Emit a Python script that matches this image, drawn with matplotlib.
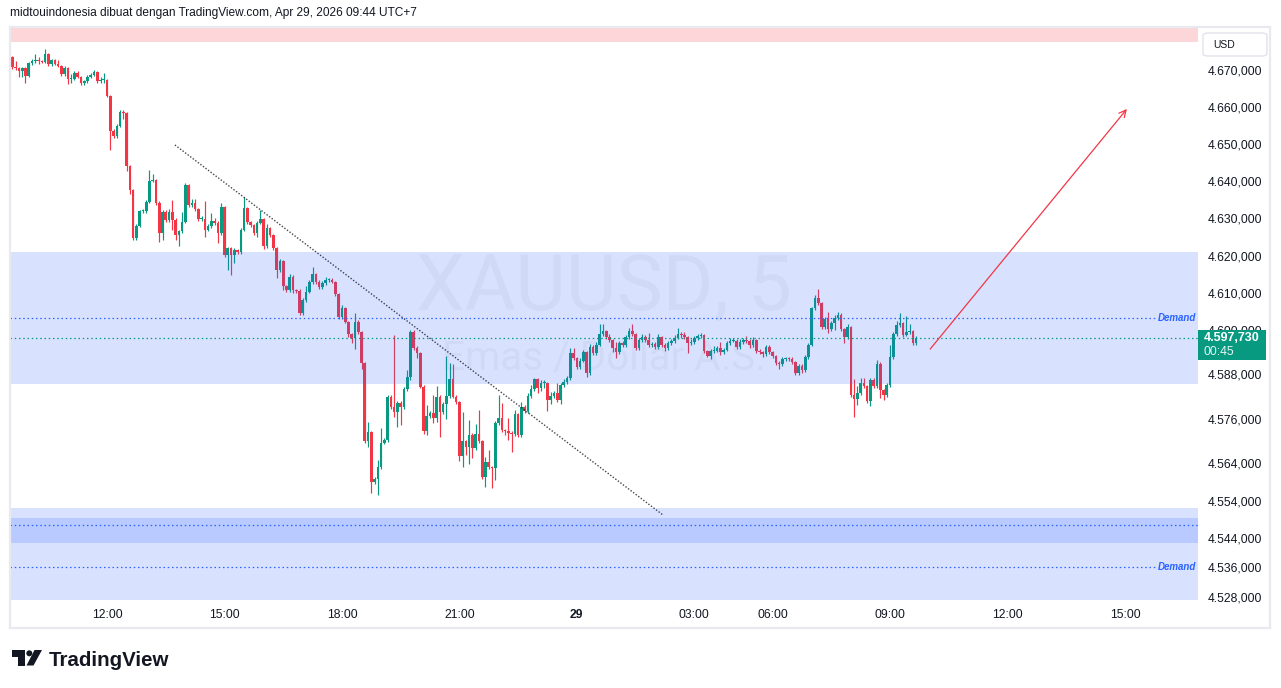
import numpy as np
import matplotlib
matplotlib.use("Agg")
import matplotlib.pyplot as plt
import matplotlib.patches as mpatches
from matplotlib.lines import Line2D

plt.rcParams['font.family'] = ['Liberation Sans', 'DejaVu Sans']

W, H = 1281, 688

# XAUUSD 5m candles, 28 Apr 09:35 -> 29 Apr 09:40 (UTC+7), opens = previous close
first_open = 4673.5
close = [
    4670.8, 4670.6, 4669.7, 4670.5, 4668.4, 4671.9, 4672.4, 4672.7, 4672.5, 4672.2,
    4674.3, 4671.6, 4672.7, 4671.6, 4671.1, 4668.9, 4670.5, 4667.6, 4667.6, 4669.2,
    4668.1, 4666.5, 4667.0, 4668.1, 4668.7, 4669.5, 4667.0, 4667.2, 4667.3, 4663.0,
    4653.6, 4652.2, 4654.9, 4658.7, 4658.3, 4644.1, 4637.7, 4624.7, 4628.0, 4632.0,
    4632.0, 4634.4, 4640.1, 4640.4, 4634.2, 4626.1, 4631.7, 4629.6, 4631.7, 4629.6,
    4625.5, 4626.6, 4629.0, 4639.0, 4633.6, 4634.2, 4632.5, 4629.8, 4629.8, 4626.9,
    4628.0, 4629.3, 4628.8, 4626.1, 4633.1, 4620.1, 4622.0, 4620.1, 4621.5, 4620.9,
    4627.0, 4632.8, 4629.0, 4628.2, 4626.1, 4628.8, 4629.8, 4622.6, 4627.4, 4625.5,
    4622.0, 4616.1, 4618.5, 4611.8, 4610.7, 4614.2, 4610.7, 4610.5, 4604.5, 4608.0,
    4610.2, 4612.9, 4615.0, 4612.9, 4611.5, 4612.6, 4613.4, 4613.4, 4612.9, 4609.6,
    4603.4, 4605.9, 4602.1, 4598.8, 4597.8, 4602.1, 4599.4, 4591.0, 4570.0, 4572.4,
    4559.0, 4559.8, 4563.0, 4569.5, 4570.3, 4581.9, 4579.2, 4577.8, 4580.3, 4579.2,
    4584.0, 4587.2, 4599.4, 4595.1, 4593.7, 4584.6, 4572.7, 4576.7, 4577.5, 4576.2,
    4581.9, 4577.8, 4580.0, 4582.1, 4586.7, 4581.9, 4580.5, 4566.0, 4570.0, 4568.4,
    4571.6, 4568.1, 4571.9, 4570.0, 4560.3, 4564.3, 4563.0, 4562.8, 4574.9, 4576.2,
    4573.0, 4572.7, 4572.2, 4571.9, 4577.3, 4571.6, 4579.2, 4578.1, 4582.1, 4584.0,
    4586.7, 4584.3, 4585.6, 4585.7, 4581.1, 4582.1, 4582.9, 4581.1, 4585.1, 4585.9,
    4587.0, 4593.7, 4592.4, 4590.0, 4591.6, 4594.0, 4588.3, 4595.3, 4593.7, 4595.9,
    4598.8, 4599.6, 4598.0, 4597.2, 4595.1, 4594.0, 4596.4, 4595.9, 4598.0, 4599.6,
    4598.8, 4595.1, 4597.2, 4598.0, 4597.2, 4595.9, 4596.2, 4595.3, 4598.0, 4595.9,
    4595.1, 4596.4, 4597.0, 4597.8, 4599.0, 4598.5, 4598.0, 4596.4, 4596.7, 4597.8,
    4598.3, 4598.6, 4594.3, 4593.0, 4594.3, 4594.4, 4595.1, 4594.0, 4594.6, 4596.4,
    4597.0, 4597.1, 4595.4, 4596.7, 4597.2, 4597.0, 4595.9, 4597.2, 4594.3, 4594.0,
    4593.4, 4595.3, 4594.0, 4592.9, 4591.0, 4590.8, 4592.1, 4592.3, 4592.2, 4591.3,
    4588.3, 4590.2, 4589.1, 4592.6, 4595.9, 4605.8, 4608.5, 4607.2, 4600.8, 4602.9,
    4600.2, 4601.8, 4603.2, 4604.0, 4600.2, 4598.0, 4600.7, 4582.4, 4581.3, 4582.9,
    4585.6, 4584.8, 4580.8, 4586.4, 4584.8, 4590.8, 4583.7, 4582.4, 4585.1, 4592.6,
    4598.8, 4601.3, 4601.8, 4598.6, 4599.4, 4599.6, 4596.4, 4597.73,
]
wick_up = [
    0.3, 1.5, 0.3, 0.4, 0.3, 0.3, 0.5, 1.6, 0.8, 0.3,
    1.4, 0.4, 0.3, 0.4, 1.0, 0.3, 0.5, 0.4, 1.2, 0.4,
    0.6, 0.3, 0.4, 0.5, 0.4, 0.6, 0.3, 0.8, 1.8, 0.3,
    0.3, 0.4, 0.5, 0.6, 0.5, 0.3, 0.4, 0.3, 0.5, 0.4,
    0.6, 0.5, 2.9, 1.6, 0.3, 0.4, 0.6, 0.5, 0.8, 3.2,
    0.4, 0.3, 2.7, 0.5, 0.4, 1.0, 1.1, 0.3, 0.8, 5.0,
    0.5, 2.2, 0.7, 0.4, 1.1, 0.3, 0.4, 0.3, 0.6, 0.4,
    0.5, 3.0, 0.4, 0.3, 0.4, 0.6, 2.4, 0.3, 1.0, 0.4,
    0.3, 0.4, 0.6, 0.3, 0.4, 0.8, 0.5, 0.3, 0.4, 0.5,
    1.6, 0.5, 1.9, 0.4, 0.5, 0.6, 0.8, 0.5, 0.6, 0.3,
    0.4, 0.8, 0.3, 0.4, 0.3, 2.4, 0.5, 0.3, 0.4, 2.7,
    0.3, 0.5, 2.0, 4.0, 0.6, 0.5, 0.4, 19.4, 0.6, 0.5,
    0.6, 1.9, 0.5, 0.6, 0.4, 0.3, 0.4, 3.0, 0.5, 4.9,
    3.0, 0.4, 0.6, 10.8, 4.3, 4.0, 0.4, 0.3, 7.8, 0.4,
    4.0, 0.5, 2.7, 6.5, 0.3, 1.3, 3.2, 0.4, 0.5, 6.2,
    4.0, 0.4, 3.5, 0.4, 1.0, 0.4, 1.4, 0.5, 1.0, 1.0,
    0.3, 0.4, 1.0, 0.8, 0.3, 1.2, 0.6, 2.7, 0.5, 0.8,
    0.6, 1.3, 1.3, 0.4, 0.8, 0.6, 0.4, 1.0, 0.5, 0.8,
    2.8, 2.0, 0.4, 0.8, 0.3, 1.5, 0.6, 0.5, 0.6, 0.8,
    1.9, 0.3, 0.6, 1.0, 0.5, 1.9, 0.6, 0.5, 1.0, 0.4,
    0.5, 0.6, 0.5, 0.7, 1.4, 0.5, 1.0, 0.4, 0.8, 0.5,
    0.7, 0.6, 0.4, 0.3, 0.6, 1.2, 0.5, 1.5, 0.6, 0.5,
    0.8, 0.6, 0.4, 0.8, 0.6, 1.0, 0.5, 0.8, 0.4, 0.5,
    0.3, 0.6, 0.5, 0.4, 0.3, 0.5, 0.6, 0.5, 0.5, 0.4,
    0.3, 0.7, 0.5, 0.6, 0.5, 0.4, 1.0, 2.4, 0.3, 0.6,
    2.0, 0.6, 0.7, 0.8, 0.5, 0.4, 0.8, 0.3, 4.3, 2.0,
    1.3, 1.3, 0.4, 0.6, 0.5, 1.1, 0.4, 0.3, 0.6, 3.2,
    0.5, 1.2, 2.6, 0.4, 4.3, 2.0, 0.4, 0.5,
]
wick_dn = [
    0.4, 0.5, 1.5, 1.6, 1.9, 0.4, 0.5, 0.4, 1.0, 0.4,
    0.3, 0.4, 0.5, 0.3, 0.4, 0.6, 0.4, 1.5, 1.0, 0.4,
    0.3, 0.5, 0.6, 0.4, 0.3, 0.4, 0.4, 0.5, 0.8, 0.4,
    5.2, 0.6, 0.4, 0.3, 1.6, 1.3, 1.0, 0.4, 0.5, 0.3,
    0.4, 0.5, 0.3, 0.4, 0.5, 2.4, 1.8, 0.6, 0.5, 2.7,
    1.4, 2.8, 0.5, 0.3, 0.6, 0.4, 0.5, 0.4, 0.6, 2.0,
    0.4, 0.5, 0.5, 2.7, 0.6, 0.5, 4.0, 5.4, 2.2, 0.4,
    0.5, 0.4, 0.5, 0.4, 0.6, 1.0, 0.4, 0.8, 0.5, 0.6,
    0.4, 2.2, 0.5, 1.2, 0.6, 0.5, 0.8, 0.5, 0.4, 0.5,
    0.6, 0.4, 0.5, 0.6, 0.5, 0.6, 0.4, 0.5, 0.4, 0.6,
    0.5, 0.6, 0.4, 0.8, 1.3, 3.0, 0.5, 1.6, 0.4, 1.6,
    3.0, 0.5, 4.4, 0.5, 0.4, 0.6, 0.5, 1.2, 4.0, 4.8,
    0.5, 0.4, 0.6, 0.5, 1.3, 0.4, 0.8, 1.0, 0.4, 1.2,
    1.0, 6.6, 0.6, 4.0, 0.5, 0.4, 0.6, 1.4, 3.0, 2.2,
    4.6, 2.7, 0.6, 0.5, 0.4, 2.7, 0.5, 5.4, 3.2, 0.5,
    0.6, 1.0, 2.0, 4.9, 0.5, 0.6, 0.5, 0.4, 0.6, 0.5,
    0.4, 1.3, 0.8, 1.2, 3.0, 1.0, 0.5, 0.6, 1.0, 0.5,
    0.6, 0.4, 0.5, 0.6, 0.5, 0.4, 1.0, 0.5, 0.6, 0.5,
    0.4, 0.5, 0.4, 0.6, 1.0, 1.6, 0.5, 0.6, 0.5, 0.4,
    0.5, 0.5, 0.6, 0.4, 0.5, 0.6, 0.5, 0.4, 0.5, 0.6,
    0.8, 0.5, 0.4, 0.5, 0.4, 0.6, 0.5, 2.6, 0.5, 0.4,
    0.5, 0.4, 0.5, 0.3, 1.0, 0.6, 0.5, 0.8, 0.5, 0.4,
    0.5, 0.4, 0.6, 0.5, 0.4, 0.6, 0.8, 0.5, 0.6, 0.5,
    0.6, 0.4, 0.5, 0.6, 0.5, 1.4, 0.5, 0.4, 0.5, 0.6,
    0.4, 0.5, 0.8, 0.5, 0.4, 0.3, 0.4, 0.5, 0.6, 0.5,
    1.0, 0.6, 1.9, 0.5, 0.6, 1.6, 0.5, 0.4, 4.8, 1.6,
    0.5, 0.6, 0.5, 1.3, 0.6, 0.5, 2.2, 1.3, 0.6, 0.5,
    0.4, 0.5, 0.6, 0.5, 0.4, 0.6, 0.5, 0.5,
]

price_ticks = [4670, 4660, 4650, 4640, 4630, 4620, 4610, 4600,
               4588, 4576, 4564, 4554, 4544, 4536, 4528]
# bar index of each time label (04:00-05:00 break removed)
time_ticks = [29, 65, 101, 137, 173, 209, 233, 269, 305, 341]
time_labels = ["12:00", "15:00", "18:00", "21:00", "29", "03:00",
               "06:00", "09:00", "12:00", "15:00"]

# drawings on the chart
supply_zone = (4677.5, 4695.0)
demand_zone_top = (4585.4, 4620.9)
demand_zone_bottom = (4515.0, 4552.0)
demand_core = (4542.5, 4549.2)
demand_level_top = 4603.2
demand_level_mid = 4547.4
demand_level_bottom = 4536.0
last_price = 4597.73
trend_x, trend_y = [49.8, 199.4], [4649.8, 4550.1]
arrow_x, arrow_y = [281.3, 341.6], [4594.8, 4659.5]

GREEN = "#089981"
RED = "#F23645"
BLUE = "#2962FF"
TEXT = "#131722"
BORDER = "#E8EAEF"


def px(x, y):
    # pixel position (from top-left) -> figure fraction
    return x / W, 1 - y / H


def fmt_price(v):
    s = f"{v:,.3f}"
    return s.replace(",", "#").replace(".", ",").replace("#", ".")


fig = plt.figure(figsize=(W / 100, H / 100), dpi=100)
fig.patch.set_facecolor("white")

left, right, top, bottom = 10, 1198, 28, 600
ax = fig.add_axes([left / W, 1 - bottom / H, (right - left) / W, (bottom - top) / H])
ax.set_facecolor("white")

# candles
c = np.array(close)
o = np.concatenate([[first_open], c[:-1]])
hi = np.maximum(o, c) + np.array(wick_up)
lo = np.minimum(o, c) - np.array(wick_dn)
idx = np.arange(len(c))
cols = np.where(c >= o, GREEN, RED)
ax.vlines(idx, lo, hi, colors=cols, linewidth=0.85, zorder=2)
body = np.maximum(np.abs(c - o), 0.3)
ax.bar(idx, body, bottom=np.minimum(o, c), width=0.8, color=cols,
       linewidth=0, zorder=3)

ax.set_xlim(-0.75, 363.4)
ax.set_ylim(4527.19, 4681.32)

# watermark
ax.text(0.5, 0.545, "XAUUSD, 5", transform=ax.transAxes, ha="center", va="center",
        fontsize=56, family="Roboto", color="#787B86", alpha=0.07, zorder=1)
ax.text(0.5, 0.423, "Emas / Dollar A.S.", transform=ax.transAxes, ha="center",
        va="center", fontsize=29, family="Roboto", color="#787B86", alpha=0.07, zorder=1)

# zones
ax.axhspan(*supply_zone, color=RED, alpha=0.2, linewidth=0, zorder=4)
ax.axhspan(*demand_zone_top, color=BLUE, alpha=0.18, linewidth=0, zorder=4)
ax.axhspan(*demand_zone_bottom, color=BLUE, alpha=0.18, linewidth=0, zorder=4)
ax.axhspan(*demand_core, color=BLUE, alpha=0.18, linewidth=0, zorder=4)

dots = (0, (1.2, 2.2))
label_end = (1155 - left) / (right - left)
ax.axhline(demand_level_top, xmax=label_end, color=BLUE, lw=0.9, ls=dots, zorder=5)
ax.axhline(demand_level_bottom, xmax=label_end, color=BLUE, lw=0.9, ls=dots, zorder=5)
ax.axhline(demand_level_mid, color=BLUE, lw=0.9, ls=dots, zorder=5)
ax.axhline(last_price, color=GREEN, lw=0.9, ls=dots, zorder=5)
for lvl in (demand_level_top, demand_level_bottom):
    ax.text(0.9985, lvl, "Demand", transform=ax.get_yaxis_transform(), ha="right",
            va="center", fontsize=7, style="italic", fontweight="bold", color=BLUE,
            zorder=6)

# trend line and projection arrow
ax.plot(trend_x, trend_y, color="#131722", alpha=0.8, lw=1.0, ls=(0, (1, 1.3)), zorder=6)
ax.annotate("", xy=(arrow_x[1], arrow_y[1]), xytext=(arrow_x[0], arrow_y[0]),
            arrowprops=dict(arrowstyle="->,head_length=0.5,head_width=0.25",
                            color=RED, lw=0.9, shrinkA=0, shrinkB=0), zorder=6)

# axes / ticks
for s in ax.spines.values():
    s.set_visible(False)
ax.yaxis.tick_right()
ax.set_yticks(price_ticks)
ax.set_yticklabels([fmt_price(v) for v in price_ticks])
ax.tick_params(axis="y", length=0, pad=7.2, labelsize=8.7, labelcolor=TEXT)
ax.set_xticks(time_ticks)
ax.set_xticklabels(time_labels)
ax.tick_params(axis="x", length=0, pad=6.5, labelsize=8.7, labelcolor=TEXT)
for lab in ax.get_xticklabels():
    if lab.get_text() == "29":
        lab.set_fontweight("bold")

# outer frame
frame_kw = dict(color=BORDER, lw=1.6, transform=fig.transFigure)
for (x0, y0), (x1, y1) in [((10, 27), (1270, 27)), ((10, 27), (10, 628)),
                           ((1270, 27), (1270, 628)), ((10, 628), (1270, 628))]:
    fig.add_artist(Line2D([x0 / W, x1 / W], [1 - y0 / H, 1 - y1 / H], **frame_kw))

# last price tag
bx, by = px(1198, 360)
fig.add_artist(mpatches.Rectangle((bx, by), 68 / W, 30 / H, transform=fig.transFigure,
                                  facecolor=GREEN, edgecolor="none", zorder=10))
fig.text(*px(1203.5, 338), fmt_price(last_price), color="white", fontsize=9,
         fontweight="bold", va="center", ha="left", zorder=11)
fig.text(*px(1203.5, 352), "00:45", color="white", alpha=0.9, fontsize=8.8,
         va="center", ha="left", zorder=11)

# currency box
ux, uy = px(1203, 56)
fig.add_artist(mpatches.FancyBboxPatch((ux, uy), 64 / W, 23 / H,
                                       boxstyle="round,pad=0,rounding_size=0.004",
                                       transform=fig.transFigure, facecolor="white",
                                       edgecolor="#E0E3EB", lw=1, zorder=10))
fig.text(*px(1213, 44.5), "USD", fontsize=7.5, color=TEXT, va="center", zorder=11)

# header
fig.text(*px(10, 13), "midtouindonesia dibuat dengan TradingView.com, Apr 29, 2026 09:44 UTC+7",
         fontsize=8.6, color=TEXT, va="center", ha="left")

# TradingView logo
logo = "#131722"
fig.add_artist(mpatches.Polygon([px(12.3, 650), px(25, 650), px(25, 665.5), px(18.3, 665.5),
                                 px(18.3, 656.5), px(12.3, 656.5)],
                                closed=True, transform=fig.transFigure,
                                facecolor=logo, edgecolor="none"))
fig.add_artist(mpatches.Ellipse(px(29.3, 653.3), 6 / W, 6 / H, transform=fig.transFigure,
                                facecolor=logo, edgecolor="none"))
fig.add_artist(mpatches.Polygon([px(34.5, 650), px(42, 650), px(33.5, 665.5), px(26.5, 665.5)],
                                closed=True, transform=fig.transFigure,
                                facecolor=logo, edgecolor="none"))
fig.text(*px(48.5, 665.5), "TradingView", fontsize=14.8, fontweight="bold", color=logo,
         va="baseline", ha="left")

fig.savefig("out.png", dpi=100, facecolor="white")
